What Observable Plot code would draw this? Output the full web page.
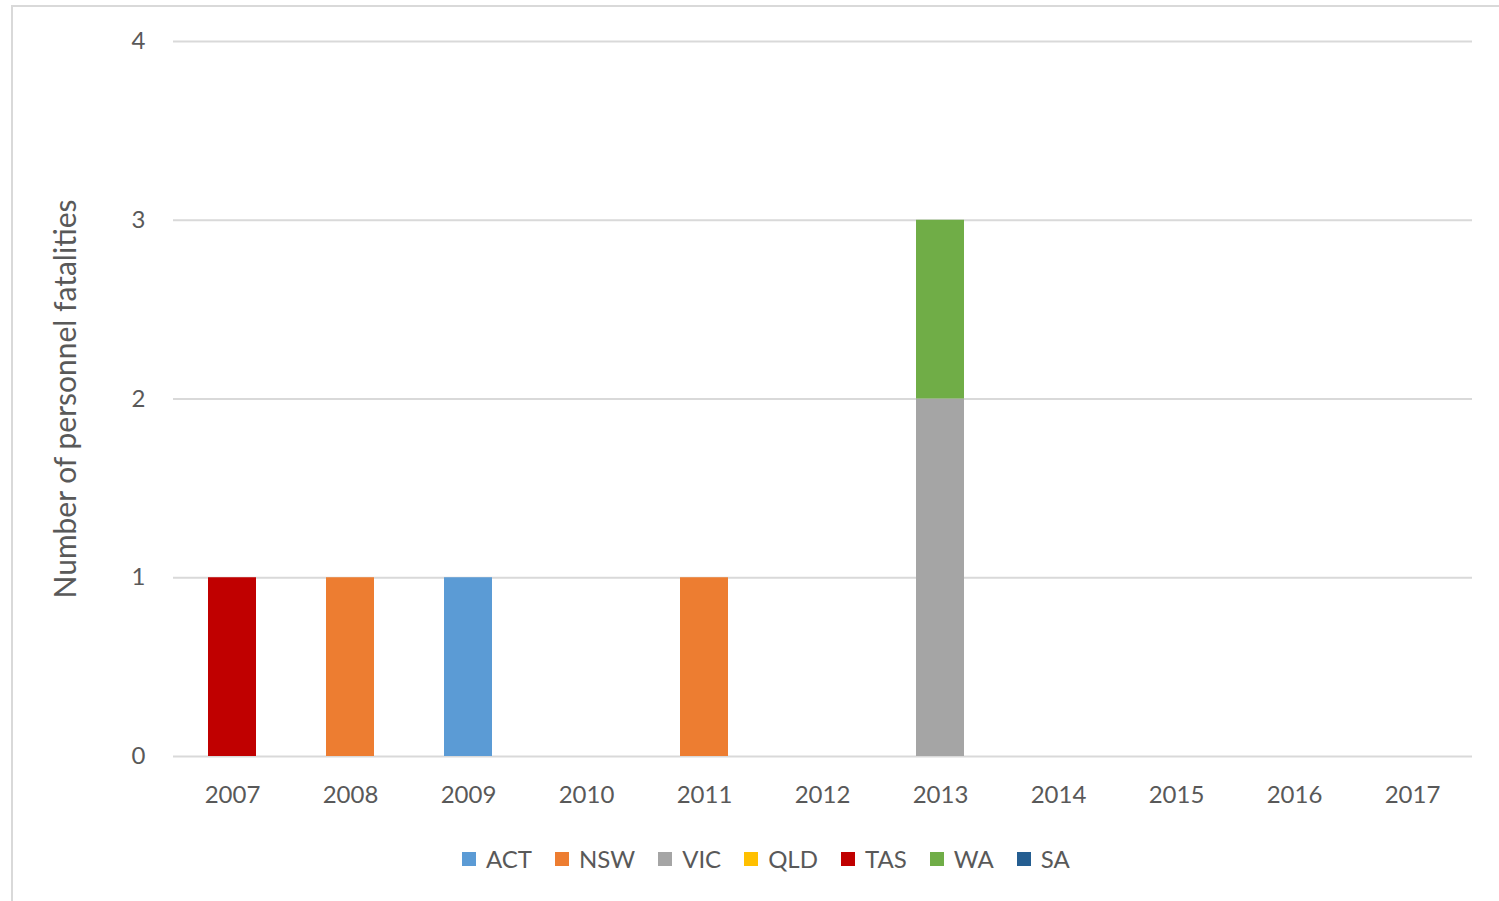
<!DOCTYPE html>
<html>
<head>
<meta charset="utf-8">
<script src="https://cdn.jsdelivr.net/npm/d3@7"></script>
<script src="https://cdn.jsdelivr.net/npm/@observablehq/plot@0.6"></script>
<style>
  html, body { margin: 0; padding: 0; background: #fff; overflow: hidden; }
  body { width: 1499px; height: 901px; position: relative; font-family: Lato, "Open Sans", sans-serif; }
  #frame { position: absolute; left: 11px; top: 5px; width: 1520px; height: 898px; border: 2px solid #d9d9d9; box-sizing: border-box; }
  #chart { position: absolute; left: 0; top: 0; }
  #legend { position: absolute; left: 462px; top: 844px; display: flex; align-items: center; color: #595959; font-size: 24px; }
  #legend .item { display: flex; align-items: center; margin-right: 23px; }
  #legend .sw { width: 14px; height: 14px; margin-right: 10px; }
</style>
</head>
<body>
<div id="frame"></div>
<div id="chart"></div>
<div id="legend"></div>
<script>
// Personnel fatalities by year, one array per state/territory
const years = ["2007","2008","2009","2010","2011","2012","2013","2014","2015","2016","2017"];
const states = ["ACT","NSW","VIC","QLD","TAS","WA","SA"];
const colors = ["#5b9bd5","#ed7d31","#a5a5a5","#ffc000","#c00000","#70ad47","#255e91"];
const ACT = [0,0,1,0,0,0,0,0,0,0,0];
const NSW = [0,1,0,0,1,0,0,0,0,0,0];
const VIC = [0,0,0,0,0,0,2,0,0,0,0];
const QLD = [0,0,0,0,0,0,0,0,0,0,0];
const TAS = [1,0,0,0,0,0,0,0,0,0,0];
const WA  = [0,0,0,0,0,0,1,0,0,0,0];
const SA  = [0,0,0,0,0,0,0,0,0,0,0];
const yTicks = [0,1,2,3,4];
const yLabel = "Number of personnel fatalities";

const series = {ACT, NSW, VIC, QLD, TAS, WA, SA};
const rows = [];
for (const s of states) {
  series[s].forEach((v, i) => { if (v > 0) rows.push({year: years[i], state: s, value: v}); });
}

const chart = Plot.plot({
  width: 1499,
  height: 830,
  marginLeft: 173,
  marginRight: 27,
  marginTop: 41,
  marginBottom: 74,
  style: {fontFamily: "Lato, 'Open Sans', sans-serif", fontSize: "24px", color: "#595959", background: "transparent"},
  x: {domain: years, paddingInner: 0.59, paddingOuter: 0.295, label: null},
  y: {domain: [0, 4], label: null},
  color: {domain: states, range: colors},
  marks: [
    Plot.ruleY(yTicks, {stroke: "#d9d9d9", strokeWidth: 2}),
    Plot.barY(rows, {x: "year", y: "value", fill: "state", order: states}),
    Plot.axisX({tickSize: 0, tickPadding: 29, fill: "#595959", fontSize: 24}),
    Plot.axisY({ticks: yTicks, tickFormat: "d", tickSize: 0, tickPadding: 28, fill: "#595959", fontSize: 24}),
    Plot.text([yLabel], {frameAnchor: "left", textAnchor: "middle", dx: -107, rotate: -90, fill: "#595959", fontSize: 30})
  ]
});
document.getElementById("chart").append(chart);

const legend = document.getElementById("legend");
states.forEach((s, i) => {
  const item = document.createElement("div");
  item.className = "item";
  const sw = document.createElement("span");
  sw.className = "sw";
  sw.style.background = colors[i];
  const t = document.createElement("span");
  t.textContent = s;
  item.append(sw, t);
  legend.append(item);
});
</script>
</body>
</html>
